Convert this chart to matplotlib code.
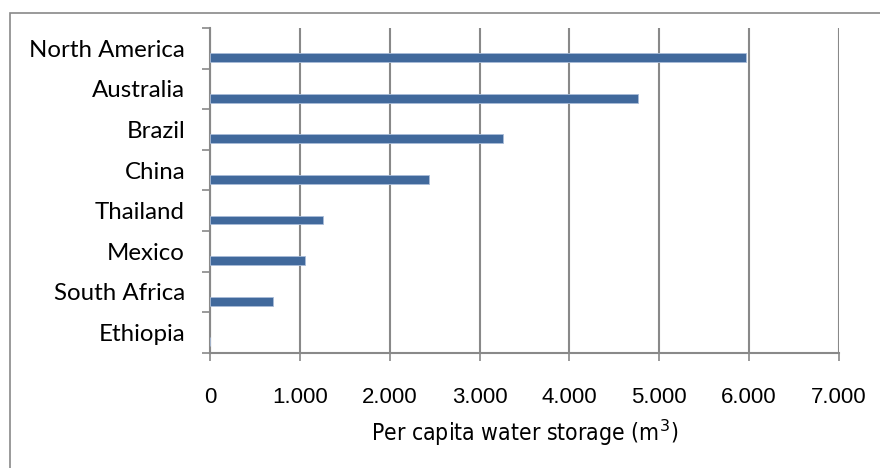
import matplotlib
matplotlib.use("Agg")
import matplotlib.pyplot as plt
from matplotlib.patches import Rectangle
from matplotlib.ticker import FuncFormatter, FixedLocator
import numpy as np

# per capita water storage, m3
regions = ["North America", "Australia", "Brazil", "China",
           "Thailand", "Mexico", "South Africa", "Ethiopia"]
storage = [5960, 4760, 3265, 2440, 1258, 1060, 705, 0]
xticks = [0, 1000, 2000, 3000, 4000, 5000, 6000, 7000]

grey = "#898989"
bar_col = "#41699c"

fig = plt.figure(figsize=(8.8, 4.68), dpi=100)
ax = fig.add_axes([210 / 880, 1 - 352.7 / 468, 629 / 880, 324.7 / 468])

# outer chart border (runs off the right / bottom of the picture)
fig.patches.append(Rectangle((10 / 880, -0.05), 1.0, 1 - 13 / 468 + 0.05,
                             transform=fig.transFigure, fill=False,
                             edgecolor=grey, lw=1.2))

pos = np.arange(len(regions))
ax.barh(pos + 0.23, storage, height=0.22, color=bar_col,
        edgecolor="#a9bcd8", linewidth=0.6, zorder=3)

ax.set_xlim(0, 7000)
ax.set_ylim(len(regions) - 0.5, -0.5)

ax.set_xticks(xticks)
ax.xaxis.set_major_formatter(FuncFormatter(lambda v, p: "0" if v == 0 else f"{int(v):,}".replace(",", ".")))
ax.grid(axis="x", color=grey, lw=1.5, zorder=0)

# category labels centred, tick marks on the boundaries
ax.yaxis.set_major_locator(FixedLocator(np.arange(-0.5, len(regions), 1.0)))
ax.yaxis.set_major_formatter(FuncFormatter(lambda v, p: ""))
ax.yaxis.set_minor_locator(FixedLocator(pos))
ax.set_yticklabels(regions, minor=True)
ax.tick_params(axis="y", which="minor", length=0, pad=18)
ax.tick_params(axis="y", which="major", length=6, width=1.2, color=grey)
ax.tick_params(axis="x", length=6, width=1.2, color=grey, pad=19)

for lab in ax.get_yticklabels(minor=True):
    lab.set_fontfamily(["Lato", "DejaVu Sans"])
    lab.set_fontsize(17.3)
for lab in ax.get_xticklabels():
    lab.set_fontfamily(["Liberation Sans", "DejaVu Sans"])
    lab.set_fontsize(16)

for s in ["top", "right"]:
    ax.spines[s].set_visible(False)
for s in ["left", "bottom"]:
    ax.spines[s].set_color(grey)
    ax.spines[s].set_linewidth(1.5)

ax.set_xlabel("Per capita water storage (m$^3$)",
              fontfamily=["DejaVu Sans"], fontstretch="condensed",
              fontsize=16.5, labelpad=7)

fig.savefig("out.png", dpi=100)
